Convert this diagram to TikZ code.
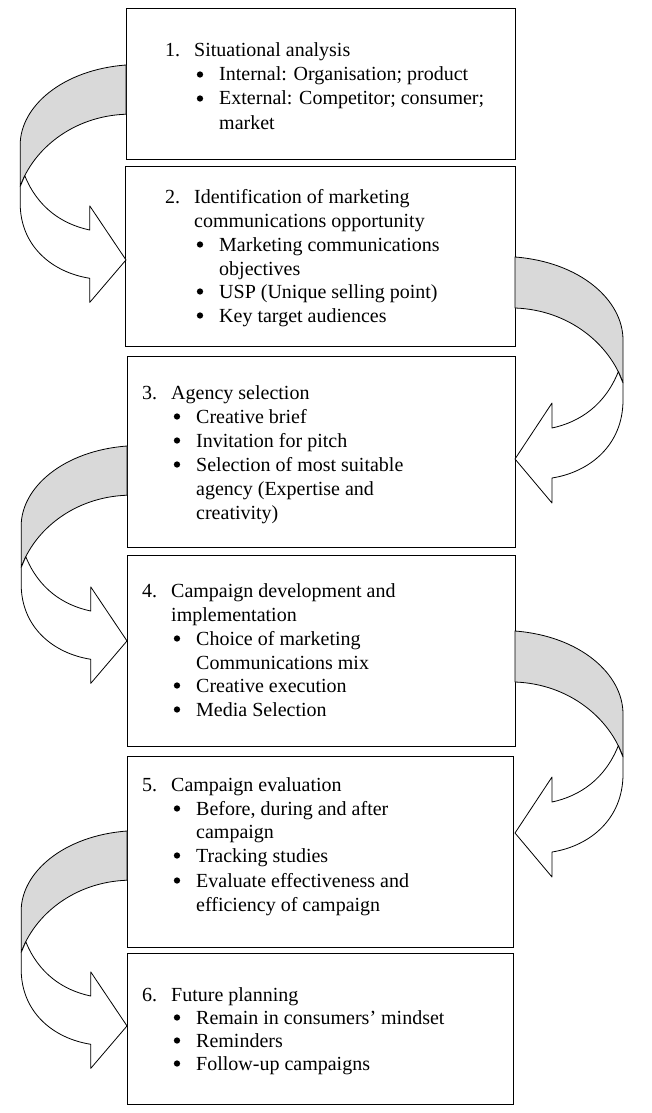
\documentclass[tikz,border=0pt]{standalone}
\usepackage{fontspec}
\setmainfont{Liberation Serif}
\definecolor{bandgray}{RGB}{217,217,217}
\tikzset{
  box/.style={draw=black,line width=1.1pt,rectangle,inner sep=0pt,anchor=north west},
  txt/.style={anchor=base west,inner sep=0pt,font=\fontsize{20}{24}\selectfont},
  bul/.style={circle,fill=black,inner sep=0pt,minimum size=6.3pt},
  arrowline/.style={draw=black,line width=0.8pt,line join=round}
}
\newcommand\curarrow[4]{%
\begin{scope}[shift={(#1,#2)},xscale=#3,yscale=#4]
\filldraw[arrowline,fill=bandgray] (0,0) .. controls (65,5) and (108,43) .. (108,83) -- (108,126) .. controls (95,88) and (55,53) .. (0,51) -- cycle;
\filldraw[arrowline,fill=white] (108,126) -- (108,143) .. controls (108,188) and (75,215) .. (37,221) -- (37,246) -- (0,202) -- (37,146) -- (37,171) .. controls (65,165) and (90,148) .. (103.3,114.7) -- cycle;
\end{scope}}
\newcommand\tl[4]{\node[txt] (#1) at (#2,#3) {#4};}
\newcommand\bl[3]{\node[bul] (#1) at (#2,#3-6.5) {};}
\begin{document}
\begin{tikzpicture}[x=1pt,y=-1pt]
\useasboundingbox (0,0) rectangle (651,1113);
% boxes
\node[box,minimum width=389pt,minimum height=151pt] (b1) at (126,8) {};
\node[box,minimum width=390pt,minimum height=180pt] (b2) at (125,166) {};
\node[box,minimum width=388pt,minimum height=191pt] (b3) at (127,356) {};
\node[box,minimum width=388pt,minimum height=191pt] (b4) at (127,555) {};
\node[box,minimum width=386pt,minimum height=191pt] (b5) at (127,756) {};
\node[box,minimum width=386pt,minimum height=151pt] (b6) at (127,953) {};
% arrows
\curarrow{126}{65}{-0.98}{0.965}
\curarrow{515}{257}{1}{1}
\curarrow{127}{446}{-0.98}{0.965}
\curarrow{515}{631}{1}{1}
\curarrow{127}{831}{-0.98}{0.965}
% box 1
\tl{n1}{165}{57}{1.}
\tl{t1a}{194}{57}{Situational analysis}
\bl{p1a}{200}{81}
\tl{t1b}{219}{81}{Internal: Organisation; product}
\bl{p1b}{200}{105}
\tl{t1c}{219}{105}{External: Competitor; consumer;}
\tl{t1d}{219}{129}{market}
% box 2
\tl{n2}{165}{203}{2.}
\tl{t2a}{194}{203}{Identification of marketing}
\tl{t2b}{194}{227}{communications opportunity}
\bl{p2a}{200}{251}
\tl{t2c}{219}{251}{Marketing communications}
\tl{t2d}{219}{275}{objectives}
\bl{p2b}{200}{298}
\tl{t2e}{219}{298}{USP (Unique selling point)}
\bl{p2c}{200}{322}
\tl{t2f}{219}{322}{Key target audiences}
% box 3
\tl{n3}{142}{399}{3.}
\tl{t3a}{171}{399}{Agency selection}
\bl{p3a}{177}{423}
\tl{t3b}{196}{423}{Creative brief}
\bl{p3b}{177}{447}
\tl{t3c}{196}{447}{Invitation for pitch}
\bl{p3c}{177}{471}
\tl{t3d}{196}{471}{Selection of most suitable}
\tl{t3e}{196}{495}{agency (Expertise and}
\tl{t3f}{196}{519}{creativity)}
% box 4
\tl{n4}{142}{597}{4.}
\tl{t4a}{171}{597}{Campaign development and}
\tl{t4b}{171}{621}{implementation}
\bl{p4a}{177}{645}
\tl{t4c}{196}{645}{Choice of marketing}
\tl{t4d}{196}{669}{Communications mix}
\bl{p4b}{177}{692}
\tl{t4e}{196}{692}{Creative execution}
\bl{p4c}{177}{716}
\tl{t4f}{196}{716}{Media Selection}
% box 5
\tl{n5}{142}{791}{5.}
\tl{t5a}{171}{791}{Campaign evaluation}
\bl{p5a}{177}{815}
\tl{t5b}{196}{815}{Before, during and after}
\tl{t5c}{196}{838}{campaign}
\bl{p5b}{177}{862}
\tl{t5d}{196}{862}{Tracking studies}
\bl{p5c}{177}{887}
\tl{t5e}{196}{887}{Evaluate effectiveness and}
\tl{t5f}{196}{911}{efficiency of campaign}
% box 6
\tl{n6}{142}{1001}{6.}
\tl{t6a}{171}{1001}{Future planning}
\bl{p6a}{177}{1024}
\tl{t6b}{196}{1024}{Remain in consumers’ mindset}
\bl{p6b}{177}{1047}
\tl{t6c}{196}{1047}{Reminders}
\bl{p6c}{177}{1070}
\tl{t6d}{196}{1070}{Follow-up campaigns}
\end{tikzpicture}
\end{document}
